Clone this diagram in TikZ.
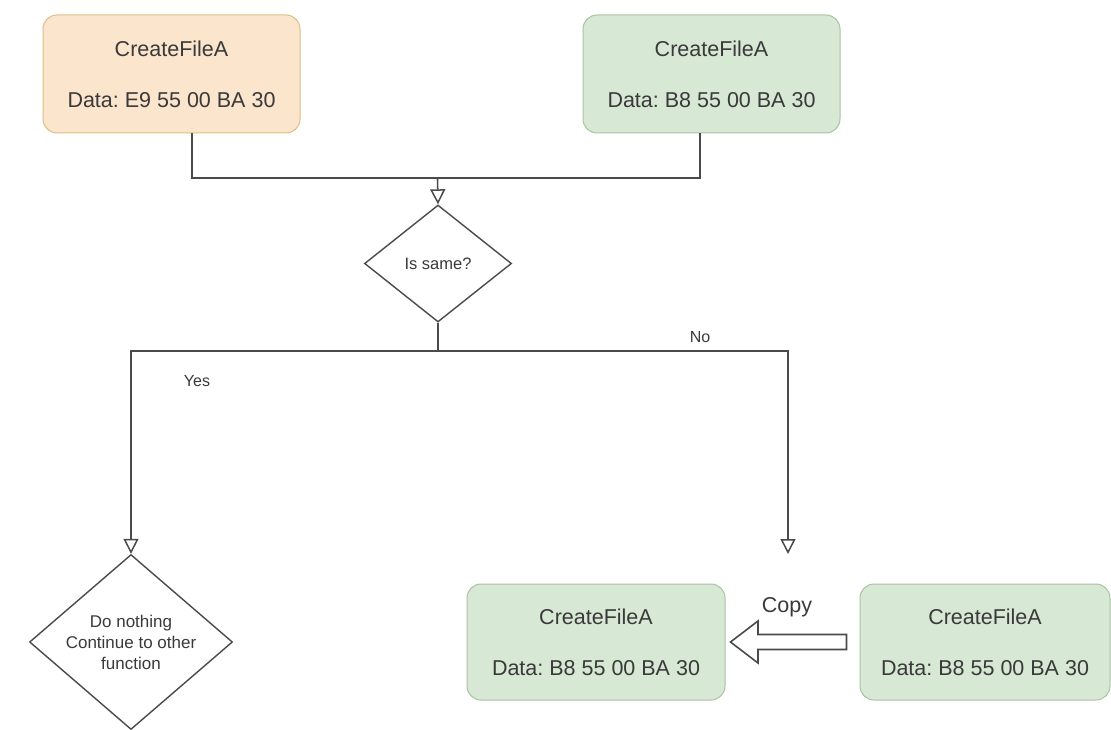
\documentclass[tikz,border=0pt]{standalone}
\usepackage{fontspec}
\setmainfont{Liberation Sans}
\usetikzlibrary{arrows.meta,shapes.geometric}
\frenchspacing

\definecolor{orfill}{HTML}{FBE5CD}
\definecolor{ordraw}{HTML}{DCBF85}
\definecolor{grfill}{HTML}{D7E8D4}
\definecolor{grdraw}{HTML}{A9C3A3}
\definecolor{ink}{HTML}{3A3A3A}
\definecolor{wirecol}{HTML}{4A4A4A}

\begin{document}
\begin{tikzpicture}[x=1pt,y=-1pt,
  databox/.style={rounded corners=14pt, minimum width=257pt, minimum height=118pt,
    line width=1pt, text=ink, align=center, inner sep=0pt,
    font=\fontsize{21.5}{51}\selectfont},
  orangebox/.style={databox, fill=orfill, draw=ordraw},
  greenbox/.style={databox, fill=grfill, draw=grdraw},
  decision/.style={diamond, draw=wirecol, line width=1.4pt, fill=white, text=ink,
    align=center, inner sep=0pt},
  wire/.style={draw=wirecol, line width=1.6pt},
  opentip/.style={-{Triangle[open, length=15pt, width=15pt, line width=1.5pt]}},
  lbl/.style={text=ink, inner sep=0pt, font=\fontsize{16}{19}\selectfont},
  blockarrow/.style={draw=wirecol, line width=1.6pt, fill=white, line join=miter}
]
\useasboundingbox (0,0) rectangle (1111,730);

% source and target records
\node[orangebox] (b1) at (171.5,74) {CreateFileA\\Data: E9 55 00 BA 30};
\node[greenbox]  (b2) at (711.5,74) {CreateFileA\\Data: B8 55 00 BA 30};

% comparison
\node[decision, minimum width=147pt, minimum height=117pt, aspect=1.256,
  font=\fontsize{16.5}{20}\selectfont] (same) at (438,263.5) {Is same?};

\node[decision, minimum width=203pt, minimum height=175pt, aspect=1.16,
  font=\fontsize{17}{21}\selectfont] (none) at (131,642) {Do nothing\\Continue to other\\function};

% copied records
\node[greenbox, minimum width=258pt, minimum height=116pt] (b3) at (596,642) {CreateFileA\\Data: B8 55 00 BA 30};
\node[greenbox, minimum width=250pt, minimum height=116pt] (b4) at (985,642) {CreateFileA\\Data: B8 55 00 BA 30};

% merge of the two records into the comparison
\coordinate (join) at (437.5,178);
\draw[wire] ([xshift=20.5pt]b1.south) |- (join) -| ([xshift=-11.5pt]b2.south);
\draw[wire, opentip] (join) -- (same.north);

% yes / no branches
\path (same.south) ++(0,28) coordinate (split);
\coordinate (noend) at (788,554);
\draw[wire] (same.south) -- (split);
\draw[wire, opentip] (split) -| (none.north);
\draw[wire, opentip] (split) -| (noend);

\node[lbl] (yes) at (197,381) {Yes};
\node[lbl] (no)  at (700,337) {No};

% copy arrow from right record to left record
\draw[blockarrow] ([xshift=-13pt]b4.west |- 0,634.5) -- (758,634.5) -- (758,621)
  -- ([xshift=5pt]b3.east) -- (758,663) -- (758,649.5)
  -- ([xshift=-13pt]b4.west |- 0,649.5) -- cycle;
\node[text=ink, inner sep=0pt, font=\fontsize{21.5}{26}\selectfont] (copy) at (787,607) {Copy};

\end{tikzpicture}
\end{document}
